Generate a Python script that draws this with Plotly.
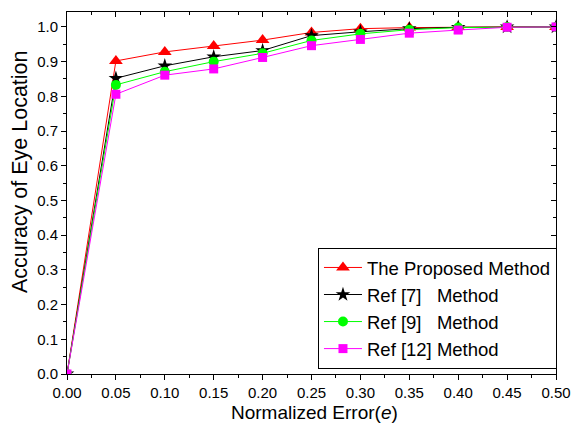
import plotly.graph_objects as go

x_err = [0.0, 0.05, 0.10, 0.15, 0.20, 0.25, 0.30, 0.35, 0.40, 0.45, 0.50]
proposed = [0.0, 0.902, 0.928, 0.945, 0.962, 0.984, 0.995, 0.998, 1.0, 1.0, 1.0]
ref7 = [0.0, 0.852, 0.888, 0.914, 0.932, 0.975, 0.986, 0.995, 0.999, 1.0, 1.0]
ref9 = [0.0, 0.833, 0.871, 0.900, 0.924, 0.961, 0.980, 0.992, 0.998, 1.0, 1.0]
ref12 = [0.0, 0.806, 0.861, 0.879, 0.912, 0.946, 0.964, 0.982, 0.991, 0.999, 1.0]

x_ticks = [0.0, 0.05, 0.10, 0.15, 0.20, 0.25, 0.30, 0.35, 0.40, 0.45, 0.50]
y_ticks = [0.0, 0.1, 0.2, 0.3, 0.4, 0.5, 0.6, 0.7, 0.8, 0.9, 1.0]

x_title = "Normalized Error(<i>e</i>)"
y_title = "Accuracy of Eye Location"

FONT = "Liberation Sans, Arial, sans-serif"

series = [
    ("The Proposed Method", proposed, "#FF0000", "triangle-up", 12),
    ("Ref [7]   Method", ref7, "#000000", "star", 11),
    ("Ref [9]   Method", ref9, "#00FF00", "circle", 10),
    ("Ref [12] Method", ref12, "#FF00FF", "square", 9),
]

fig = go.Figure()
for name, ys, color, sym, size in series:
    fig.add_trace(go.Scatter(
        x=x_err, y=ys, name=name, mode="lines+markers",
        line=dict(color=color, width=1),
        marker=dict(symbol=sym, size=size, color=color, line=dict(width=0)),
        cliponaxis=True,
    ))

# invisible trace for mirrored top/right axes with inward ticks
fig.add_trace(go.Scatter(x=[x_ticks[0]], y=[y_ticks[0]], xaxis="x2", yaxis="y2",
                         mode="markers", marker=dict(opacity=0), showlegend=False,
                         hoverinfo="skip"))

xr = [0, 0.5]
yr = [0, 1.043]

fig.update_layout(
    width=572, height=432,
    margin=dict(l=67, r=16, t=12, b=58),
    paper_bgcolor="white", plot_bgcolor="white",
    font=dict(family=FONT, color="black"),
    xaxis=dict(
        range=xr, tickvals=x_ticks, tickformat=".2f", automargin=False,
        ticks="outside", ticklen=5, tickwidth=1, tickcolor="black",
        minor=dict(ticks="outside", ticklen=3, dtick=0.025, tick0=0, tickcolor="black"),
        showline=True, linecolor="black", linewidth=1, showgrid=False, zeroline=False,
        tickfont=dict(size=15),
    ),
    yaxis=dict(
        range=yr, tickvals=y_ticks, tickformat=".1f", automargin=False,
        ticks="outside", ticklen=5, tickwidth=1, tickcolor="black",
        minor=dict(ticks="outside", ticklen=3, dtick=0.05, tick0=0, tickcolor="black"),
        showline=True, linecolor="black", linewidth=1, showgrid=False, zeroline=False,
        tickfont=dict(size=15),
    ),
    xaxis2=dict(
        overlaying="x", side="top", range=xr, tickvals=x_ticks, showticklabels=False,
        ticks="inside", ticklen=5, tickwidth=1, tickcolor="black",
        minor=dict(ticks="inside", ticklen=3, dtick=0.025, tick0=0, tickcolor="black"),
        showline=True, linecolor="black", linewidth=1, showgrid=False, zeroline=False,
    ),
    yaxis2=dict(
        overlaying="y", side="right", range=yr, tickvals=y_ticks, showticklabels=False,
        ticks="inside", ticklen=5, tickwidth=1, tickcolor="black",
        minor=dict(ticks="inside", ticklen=3, dtick=0.05, tick0=0, tickcolor="black"),
        showline=True, linecolor="black", linewidth=1, showgrid=False, zeroline=False,
    ),
    legend=dict(
        x=1.002, y=0.014, xanchor="right", yanchor="bottom",
        bgcolor="white", bordercolor="black", borderwidth=1,
        font=dict(size=18.5), tracegroupgap=0, itemwidth=38,
    ),
    showlegend=True,
    annotations=[
        dict(text=x_title, xref="paper", yref="paper", x=0.507, y=-0.105,
             xanchor="center", yanchor="middle", showarrow=False,
             font=dict(size=19)),
        dict(text=y_title, xref="paper", yref="paper", x=-0.096, y=0.558,
             xanchor="center", yanchor="middle", showarrow=False, textangle=-90,
             font=dict(size=21.5)),
    ],
)

fig.write_html("out.html")
